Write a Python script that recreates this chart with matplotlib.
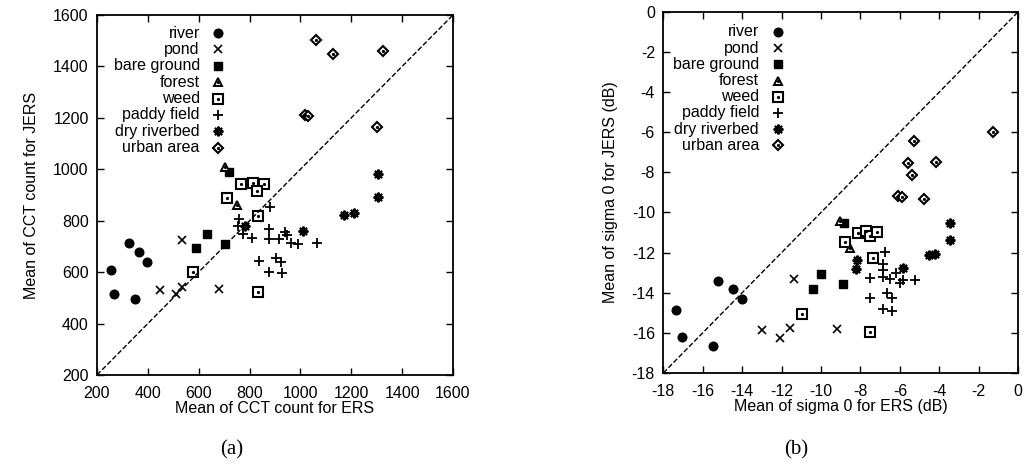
import matplotlib.pyplot as plt

plt.rcParams['font.family'] = ['Liberation Sans', 'DejaVu Sans']
plt.rcParams['axes.unicode_minus'] = False

labels = ['river', 'pond', 'bare ground', 'forest', 'weed',
          'paddy field', 'dry riverbed', 'urban area']

# (a) mean of CCT count: ERS (x) vs JERS (y)
cct_river_x = [257, 267, 327, 349, 367, 397]
cct_river_y = [609, 515, 712, 495, 680, 641]
cct_pond_x = [449, 533, 511, 536, 681]
cct_pond_y = [532, 725, 515, 542, 535]
cct_bare_x = [591, 633, 702, 719]
cct_bare_y = [693, 748, 708, 989]
cct_forest_x = [703, 750]
cct_forest_y = [1009, 861]
cct_weed_x = [766, 813, 857, 829, 711, 833, 833, 577]
cct_weed_y = [943, 947, 943, 916, 888, 818, 523, 599]
cct_paddy_x = [882, 757, 755, 774, 810, 875, 878, 917, 938, 948, 965, 991,
               1066, 836, 904, 925, 878, 928]
cct_paddy_y = [853, 807, 779, 748, 733, 768, 729, 729, 756, 744, 713, 709,
               713, 643, 655, 641, 601, 597]
cct_dry_x = [782, 1010, 1171, 1211, 1305, 1305]
cct_dry_y = [779, 760, 822, 830, 892, 982]
cct_urban_x = [1061, 1128, 1325, 1018, 1030, 1301]
cct_urban_y = [1503, 1448, 1460, 1211, 1207, 1164]

# (b) mean of sigma 0 (dB): ERS (x) vs JERS (y)
sig_river_x = [-17.37, -17.04, -15.46, -15.21, -14.48, -14.02]
sig_river_y = [-14.87, -16.2, -16.63, -13.42, -13.83, -14.33]
sig_pond_x = [-12.97, -12.08, -11.57, -11.35, -9.2]
sig_pond_y = [-15.88, -16.25, -15.75, -13.33, -15.8]
sig_bare_x = [-10.01, -10.42, -8.89, -8.86]
sig_bare_y = [-13.08, -13.83, -13.58, -10.55]
sig_forest_x = [-9.03, -8.52]
sig_forest_y = [-10.42, -11.78]
sig_weed_x = [-10.98, -7.54, -8.81, -8.13, -7.71, -7.51, -7.14, -7.39]
sig_weed_y = [-15.05, -15.97, -11.45, -11.0, -10.92, -11.17, -10.95, -12.25]
sig_paddy_x = [-6.78, -6.88, -6.88, -7.51, -6.88, -6.49, -6.19, -6.02, -5.85,
               -5.22, -6.63, -6.41, -7.51, -6.86, -6.41]
sig_paddy_y = [-11.95, -12.58, -12.87, -13.25, -13.22, -13.33, -13.0, -13.5,
               -13.38, -13.38, -14.0, -14.25, -14.25, -14.8, -14.92]
sig_dry_x = [-8.18, -8.22, -5.82, -4.5, -4.21, -3.45, -3.45]
sig_dry_y = [-12.38, -12.8, -12.78, -12.13, -12.05, -10.55, -11.38]
sig_urban_x = [-5.31, -5.6, -4.16, -5.39, -6.1, -5.9, -4.8, -1.3]
sig_urban_y = [-6.42, -7.55, -7.47, -8.12, -9.17, -9.25, -9.33, -6.0]

cct = [(cct_river_x, cct_river_y), (cct_pond_x, cct_pond_y),
       (cct_bare_x, cct_bare_y), (cct_forest_x, cct_forest_y),
       (cct_weed_x, cct_weed_y), (cct_paddy_x, cct_paddy_y),
       (cct_dry_x, cct_dry_y), (cct_urban_x, cct_urban_y)]
sig = [(sig_river_x, sig_river_y), (sig_pond_x, sig_pond_y),
       (sig_bare_x, sig_bare_y), (sig_forest_x, sig_forest_y),
       (sig_weed_x, sig_weed_y), (sig_paddy_x, sig_paddy_y),
       (sig_dry_x, sig_dry_y), (sig_urban_x, sig_urban_y)]

# marker style per class, and whether it gets a small centre dot
styles = [dict(marker='o', ms=6.2, mfc='k', mew=1),
          dict(marker='x', ms=6, mew=1.2),
          dict(marker='s', ms=5.8, mfc='k', mew=1),
          dict(marker='^', ms=6, mfc='white', mew=1.4),
          dict(marker='s', ms=6.5, mfc='white', mew=1.5),
          dict(marker='+', ms=7.5, mew=1.3),
          dict(marker=(8, 2, 0), ms=7, mew=1.5),
          dict(marker='D', ms=5.5, mfc='white', mew=1.5)]
dotted = [False, False, False, True, True, False, False, True]

FS = 11.5


def draw(ax, data):
    for (x, y), st, d in zip(data, styles, dotted):
        ax.plot(x, y, ls='none', color='k', mec='k', **st)
        if d:
            ax.plot(x, y, ls='none', marker='o', ms=1.3, color='k')


def key(ax, tx, mx, y0, dy):
    # gnuplot-style key: right-aligned text, marker to the right
    for i, (lab, st, d) in enumerate(zip(labels, styles, dotted)):
        y = y0 - i * dy
        ax.text(tx, y, lab, ha='right', va='center', fontsize=FS,
                transform=ax.transAxes)
        ax.plot([mx], [y], ls='none', color='k', mec='k',
                transform=ax.transAxes, clip_on=False, **st)
        if d:
            ax.plot([mx], [y], ls='none', marker='o', ms=1.3, color='k',
                    transform=ax.transAxes, clip_on=False)


def style_axes(ax):
    ax.tick_params(direction='in', top=True, right=True, length=5,
                   width=1, labelsize=FS, pad=6)
    ax.tick_params(axis='x', pad=8)
    for s in ax.spines.values():
        s.set_linewidth(1.3)


fig = plt.figure(figsize=(10.25, 4.72), dpi=100)
ax1 = fig.add_axes([0.0946, 0.2055, 0.3473, 0.7627])
ax2 = fig.add_axes([0.6471, 0.2097, 0.3463, 0.7655])

draw(ax1, cct)
ax1.plot([200, 1600], [200, 1600], 'k--', lw=1)
ax1.set_xlim(200, 1600)
ax1.set_ylim(200, 1600)
ax1.set_xticks(range(200, 1601, 200))
ax1.set_yticks(range(200, 1601, 200))
ax1.set_xlabel('Mean of CCT count for ERS', fontsize=FS, labelpad=0)
ax1.set_ylabel('Mean of CCT count for JERS', fontsize=FS, labelpad=10)
style_axes(ax1)
key(ax1, 0.289, 0.34, 0.95, 0.0455)

draw(ax2, sig)
ax2.plot([-18, 0], [-18, 0], 'k--', lw=1)
ax2.set_xlim(-18, 0)
ax2.set_ylim(-18, 0)
ax2.set_xticks(range(-18, 1, 2))
ax2.set_yticks(range(-18, 1, 2))
ax2.set_xlabel('Mean of sigma 0 for ERS (dB)', fontsize=FS, labelpad=0)
ax2.set_ylabel('Mean of sigma 0 for JERS (dB)', fontsize=FS, labelpad=10)
style_axes(ax2)
key(ax2, 0.27, 0.324, 0.944, 0.0448)

fig.text(0.226, 0.047, '(a)', ha='center', va='center', fontsize=15,
         family='Liberation Serif')
fig.text(0.777, 0.047, '(b)', ha='center', va='center', fontsize=15,
         family='Liberation Serif')

fig.savefig('out.png', dpi=100)
